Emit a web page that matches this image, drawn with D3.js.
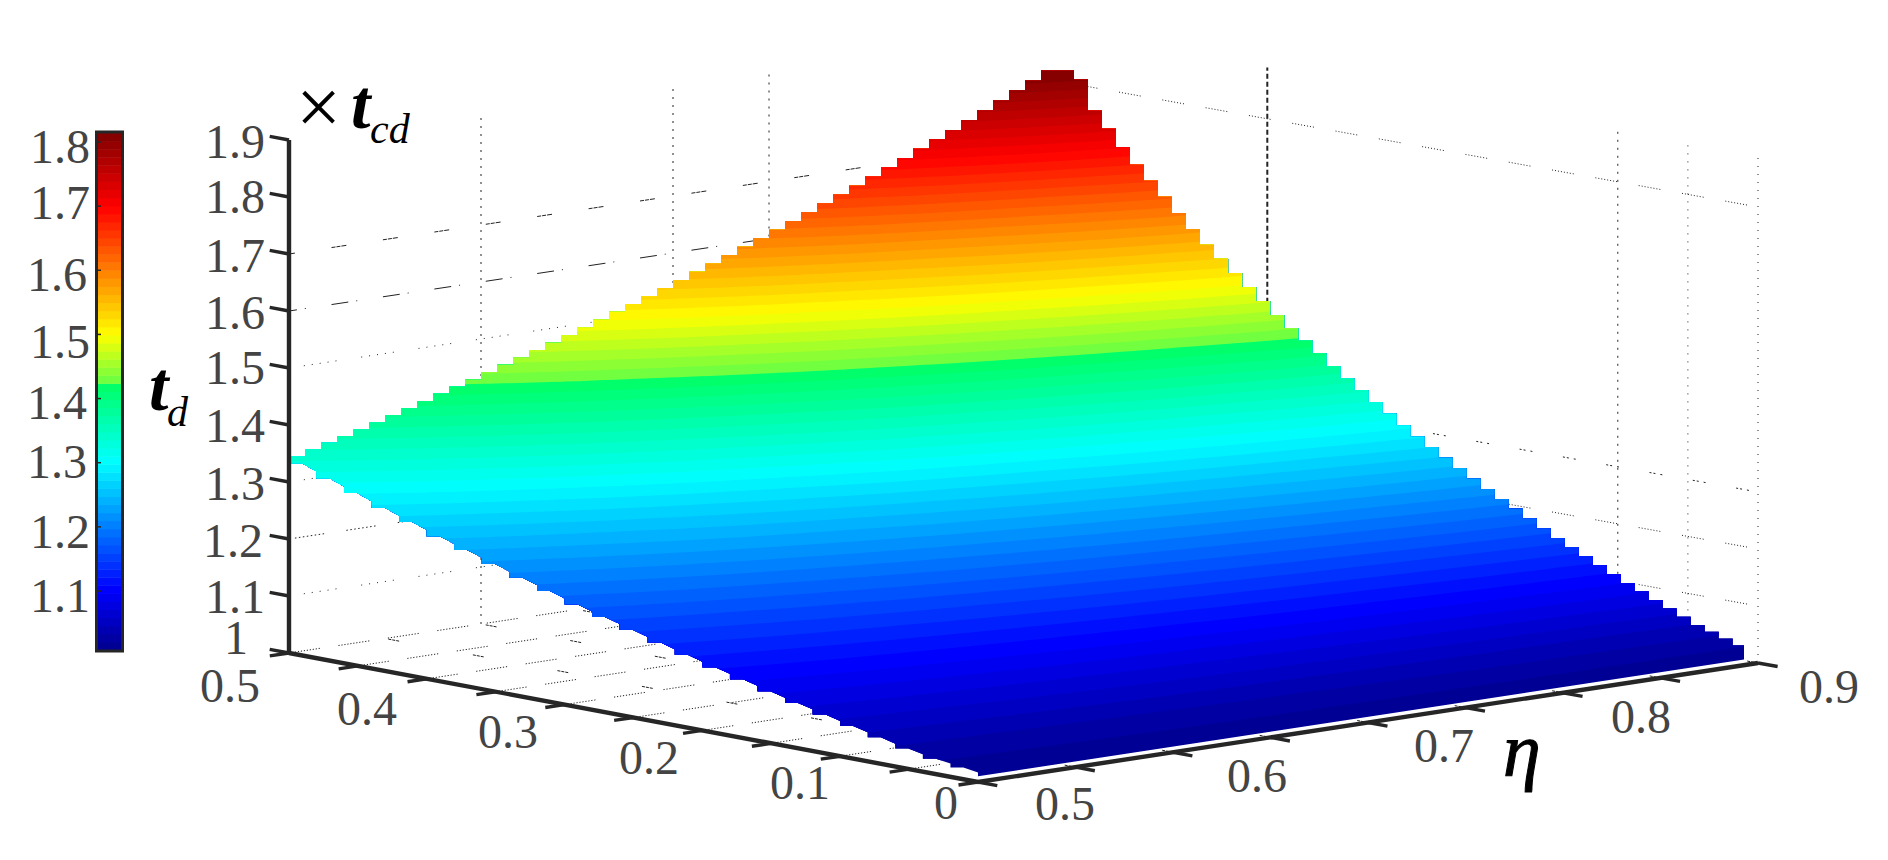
<!DOCTYPE html>
<html>
<head>
<meta charset="utf-8">
<script src="https://cdn.jsdelivr.net/npm/d3@7/dist/d3.min.js"></script>
<style>
html,body{margin:0;padding:0;background:#fff;overflow:hidden}
svg{display:block}
text{font-family:"Liberation Serif","Times New Roman",serif}
</style>
</head>
<body>
<svg id="chart" width="1888" height="860" viewBox="0 0 1888 860"></svg>
<script>
// ---------- data ----------
const etaValues = [0.5,0.55,0.6,0.65,0.7,0.75,0.8,0.85,0.9];
const dValues   = [0,0.05,0.1,0.15,0.2,0.25,0.3,0.35,0.4,0.45,0.5];
const tdRow00 = [1.010,1.010,1.010,1.010,1.010,1.010,1.010,1.010,1.010];
const tdRow05 = [1.026,1.028,1.031,1.034,1.036,1.039,1.042,1.044,1.047];
const tdRow10 = [1.053,1.058,1.064,1.070,1.075,1.081,1.087,1.093,1.099];
const tdRow15 = [1.081,1.090,1.099,1.108,1.117,1.127,1.136,1.146,1.156];
const tdRow20 = [1.111,1.124,1.136,1.149,1.163,1.176,1.190,1.205,1.220];
const tdRow25 = [1.143,1.159,1.176,1.194,1.212,1.231,1.250,1.270,1.290];
const tdRow30 = [1.176,1.198,1.220,1.242,1.266,1.290,1.316,1.342,1.370];
const tdRow35 = [1.212,1.238,1.266,1.294,1.325,1.356,1.389,1.424,1.460];
const tdRow40 = [1.250,1.282,1.316,1.351,1.389,1.429,1.471,1.515,1.562];
const tdRow45 = [1.290,1.329,1.370,1.413,1.460,1.509,1.562,1.619,1.681];
const tdRow50 = [1.333,1.379,1.429,1.481,1.538,1.600,1.667,1.739,1.818];
const tdRows = [tdRow00,tdRow05,tdRow10,tdRow15,tdRow20,tdRow25,tdRow30,tdRow35,tdRow40,tdRow45,tdRow50];

const colorLimits = [1.008,1.814];
const colorStopsAt = [0,0.117,0.364,0.515,0.5151,0.61,0.857,1];
const colorStops = ["#00008c","#0000ff","#00ffff","#00ff64","#64ff46","#ffff00","#ff0000","#800000"];
const nColors = 64;

const zTicks = [1,1.1,1.2,1.3,1.4,1.5,1.6,1.7,1.8,1.9];
const zTickLabels = ["1","1.1","1.2","1.3","1.4","1.5","1.6","1.7","1.8","1.9"];
const dTicks = [0,0.05,0.1,0.15,0.2,0.25,0.3,0.35,0.4,0.45,0.5];
const dTickLabels = ["0","0.1","0.2","0.3","0.4","0.5"];
const etaTicks = [0.5,0.55,0.6,0.65,0.7,0.75,0.8,0.85,0.9];
const etaTickLabels = ["0.5","0.6","0.7","0.8","0.9"];
const cbTicks = [1.1,1.2,1.3,1.4,1.5,1.6,1.7,1.8];
const cbTickLabels = ["1.1","1.2","1.3","1.4","1.5","1.6","1.7","1.8"];

// ---------- layout ----------
const W = 1888, H = 860;
const cornerA = [289,653], cornerB = [978,782], cornerC = [1758,663], cornerE = [1057,537];
const INK = "#262626", LABEL = "#444444";
const svg = d3.select("#chart");

const uScale = d3.scaleLinear().domain([0.5,0.9]).range([0,1]);
const vScale = d3.scaleLinear().domain([0,0.5]).range([0,1]);
const zPx = d3.scaleLinear().domain([1,1.9]).range([0,-513]);

function project(D,eta,z){
  const u = uScale(eta), v = vScale(D);
  const mix = k => (1-u)*(1-v)*cornerB[k] + u*(1-v)*cornerC[k] + (1-u)*v*cornerA[k] + u*v*cornerE[k];
  return [mix(0), mix(1) + zPx(z)];
}
// piecewise-bilinear reading of the table (last cell continues past the border)
function sample(D,eta){
  const i = Math.max(0,Math.min(dValues.length-2,d3.bisectRight(dValues,D)-1));
  const j = Math.max(0,Math.min(etaValues.length-2,d3.bisectRight(etaValues,eta)-1));
  const s = (D-dValues[i])/(dValues[i+1]-dValues[i]);
  const t = (eta-etaValues[j])/(etaValues[j+1]-etaValues[j]);
  return (1-s)*(1-t)*tdRows[i][j] + (1-s)*t*tdRows[i][j+1] + s*(1-t)*tdRows[i+1][j] + s*t*tdRows[i+1][j+1];
}
const colorRamp = d3.scaleLinear().domain(colorStopsAt).range(colorStops).interpolate(d3.interpolateRgb);
const bandColors = d3.range(nColors).map(i => colorRamp((i+0.5)/nColors));
const bandLevels = d3.range(nColors).map(i => colorLimits[0] + i*(colorLimits[1]-colorLimits[0])/nColors);

// ---------- walls and floor grid ----------
const gridG = svg.append("g").attr("fill","none").attr("stroke","#222");
const line = d3.line();
function repeatPat(pair,n,gap){ return d3.range(n).flatMap(()=>pair).slice(0,-1).concat([pair[1]+gap]).join(" "); }
const leftWallLines = [
  {z:1.7,dash:"4 1 4 1 5 37",off:9,w:1},
  {z:1.6,dash:"17 8 1 26",off:9,w:1},
  {z:1.5,dash:"1 7 1 7 1 7 1 7 1 25",off:43,w:1},
  {z:1.3,dash:"1 7 1 7 1 7 1 7 1 25",off:43,w:1},
  {z:1.2,dash:repeatPat([1.5,2.5],8,20),off:46,w:1},
  {z:1.1,dash:"1 7 1 7 1 7 1 7 1 25",off:43,w:1}
];
leftWallLines.forEach(l=>{
  gridG.append("path").attr("d",line([project(0.5,0.5,l.z),project(0.5,0.9,l.z)]))
    .attr("stroke-dasharray",l.dash).attr("stroke-dashoffset",l.off).attr("stroke-width",l.w);
});
const rightWallLines = [
  {z:1.8,dash:repeatPat([1,2],8,20),off:25},
  {z:1.3,dash:"2 2 2 5 2 31",off:14},
  {z:1.2,dash:repeatPat([1,2],8,20),off:25},
  {z:1.1,dash:repeatPat([1,2],8,20),off:25}
];
rightWallLines.forEach(l=>{
  gridG.append("path").attr("d",line([project(0.5,0.9,l.z),project(0,0.9,l.z)]))
    .attr("stroke-dasharray",l.dash).attr("stroke-dashoffset",l.off).attr("stroke-width",1);
});
dTicks.forEach(D=>{
  gridG.append("path").attr("d",line([project(D,0.5,1),project(D,0.9,1)]))
    .attr("stroke-dasharray",repeatPat([1.2,1.8],11,17)).attr("stroke-width",1);
});
etaTicks.forEach(e=>{
  gridG.append("path").attr("d",line([project(0,e,1),project(0.5,e,1)]))
    .attr("stroke-dasharray","3 1 3 1 3 75").attr("stroke-width",1);
});
const wallVerticals = [
  {D:0.5,e:0.6,dash:"2 6",w:1},{D:0.5,e:0.7,dash:"2 6",w:1},{D:0.5,e:0.75,dash:"2 6",w:1},
  {D:0.35,e:0.9,dash:"5 3",w:2},{D:0.1,e:0.9,dash:"2 6",w:1},{D:0.05,e:0.9,dash:"1 7",w:1},{D:0,e:0.9,dash:"1 7",w:1}
];
wallVerticals.forEach(l=>{
  gridG.append("path").attr("d",line([project(l.D,l.e,1),project(l.D,l.e,1.89)]))
    .attr("stroke-dasharray",l.dash).attr("stroke-width",l.w);
});

// ---------- surface: outline is stepped like the original mesh ----------
function stepOutline(){
  const pts = [];
  const backN = 48, rightN = 50, frontN = 25;
  const P = (D,e)=>project(D,e,sample(D,e));
  let prev = P(0.5,0.5);
  pts.push(prev);
  for(let i=1;i<=backN;i++){
    const cur = P(0.5,0.5+0.4*i/backN);
    pts.push([prev[0],cur[1]],cur);
    prev = cur;
  }
  pts.push([prev[0]+17,prev[1]]);
  prev = [prev[0]+17,prev[1]+9];
  pts.push(prev);
  for(let i=1;i<=rightN-1;i++){
    const D = 0.5-0.5*(i+1.2)/rightN;
    const cur = P(Math.max(D,0.01),0.9);
    pts.push([cur[0],prev[1]],cur);
    prev = cur;
  }
  pts.push([prev[0],prev[1]+9]);
  const low = P(0,0.5);
  pts.push(low);
  prev = low;
  for(let i=1;i<=frontN;i++){
    const cur = P(0.5*i/frontN,0.5);
    const dx = cur[0]-prev[0], dy = cur[1]-prev[1];
    pts.push([prev[0],prev[1]+dy*0.44]);
    pts.push([prev[0]+dx*0.53,prev[1]+dy]);
    pts.push(cur);
    prev = cur;
  }
  return pts;
}
const defs = svg.append("defs");
defs.append("clipPath").attr("id","surfaceClip").append("path").attr("d",line(stepOutline())+"Z");

const subStep = 0.005, etaMin = 0.45, dMin = -0.05;
const nx = 101, ny = 121;
const grid = new Float64Array(nx*ny);
for(let r=0;r<ny;r++) for(let c=0;c<nx;c++) grid[r*nx+c] = sample(dMin+r*subStep, etaMin+c*subStep);
const contourGen = d3.contours().size([nx,ny]).smooth(true);
const toScreen = d3.geoTransform({point:function(x,y){
  const e = etaMin+(x-0.5)*subStep, D = dMin+(y-0.5)*subStep;
  const p = project(D,e,sample(D,e));
  this.stream.point(p[0],p[1]);
}});
const pathGen = d3.geoPath(toScreen);
const surfG = svg.append("g").attr("clip-path","url(#surfaceClip)");
bandLevels.forEach((lev,i)=>{
  const level = i===0 ? -1 : lev;
  const poly = contourGen.contour(grid,level);
  surfG.append("path").attr("d",pathGen(poly)).attr("fill",bandColors[i]);
});

// ---------- axes ----------
const axG = svg.append("g").attr("fill","none").attr("stroke",INK).attr("stroke-linecap","butt");
axG.append("path").attr("d",line([project(0.5,0.5,1),project(0.5,0.5,1.9)])).attr("stroke-width",4.4);
axG.append("path").attr("d",line([project(0.5,0.5,1),project(0,0.5,1)])).attr("stroke-width",4.4);
axG.append("path").attr("d",line([project(0,0.5,1),project(0,0.9,1)])).attr("stroke-width",4.4);
zTicks.forEach(z=>axG.append("path").attr("d",line([project(0.5,0.5,z),project(0.514,0.5,z)])).attr("stroke-width",3.4));
dTicks.forEach(D=>axG.append("path").attr("d",line([project(D,0.5,1),project(D,0.49,1)])).attr("stroke-width",3.4));
etaTicks.forEach(e=>axG.append("path").attr("d",line([project(0,e,1),project(-0.014,e,1)])).attr("stroke-width",3.4));

// ---------- tick labels ----------
const labelG = svg.append("g").attr("fill",LABEL).attr("font-size",48);
const zLabelX = [224,205,203,205,205,205,205,205,205,205];
const zLabelY = [654,613,557,500,442,384,329,272,213,158];
zTickLabels.forEach((t,i)=>labelG.append("text").attr("x",zLabelX[i]).attr("y",zLabelY[i]).text(t));
const dLabelX = [934,770,619,478,337,200];
const dLabelY = [819,799,774,748,725,702];
dTickLabels.forEach((t,i)=>labelG.append("text").attr("x",dLabelX[i]).attr("y",dLabelY[i]).text(t));
const etaLabelX = [1035,1227,1414,1611,1799];
const etaLabelY = [820,792,762,733,703];
etaTickLabels.forEach((t,i)=>labelG.append("text").attr("x",etaLabelX[i]).attr("y",etaLabelY[i]).text(t));

// ---------- colour bar ----------
const cbY = d3.scaleLinear().domain(colorLimits).range([650,133]);
const cbG = svg.append("g");
bandColors.forEach((c,i)=>{
  cbG.append("rect").attr("x",97).attr("width",25)
    .attr("y",cbY(bandLevels[i]+(colorLimits[1]-colorLimits[0])/nColors))
    .attr("height",(cbY(colorLimits[0])-cbY(colorLimits[1]))/nColors+0.5)
    .attr("fill",c);
});
cbG.append("rect").attr("x",96.5).attr("y",132).attr("width",26).attr("height",519)
  .attr("fill","none").attr("stroke",INK).attr("stroke-width",3);
cbTicks.forEach(z=>cbG.append("line").attr("x1",97).attr("x2",101).attr("y1",cbY(z)).attr("y2",cbY(z)).attr("stroke",INK).attr("stroke-width",1.5));
const cbLabelX = [30,30,27,27,30,27,30,30];
const cbLabelY = [612,548,478,419,358,291,219,163];
cbTickLabels.forEach((t,i)=>labelG.append("text").attr("x",cbLabelX[i]).attr("y",cbLabelY[i]).text(t));

// ---------- axis titles ----------
const titleG = svg.append("g").attr("fill","#000");
titleG.append("text").attr("x",296).attr("y",134).attr("font-size",80).text("\u00D7");
titleG.append("text").attr("x",351).attr("y",128).attr("font-size",70).attr("font-style","italic").attr("font-weight","bold").text("t");
titleG.append("text").attr("x",370).attr("y",143).attr("font-size",42).attr("font-style","italic").text("cd");
titleG.append("text").attr("x",149).attr("y",410).attr("font-size",70).attr("font-style","italic").attr("font-weight","bold").text("t");
titleG.append("text").attr("x",167).attr("y",426).attr("font-size",42).attr("font-style","italic").text("d");
titleG.append("text").attr("x",1503).attr("y",776).attr("font-size",76).attr("font-style","italic")
  .attr("stroke","#000").attr("stroke-width",1).text("\u03B7");
</script>
</body>
</html>
